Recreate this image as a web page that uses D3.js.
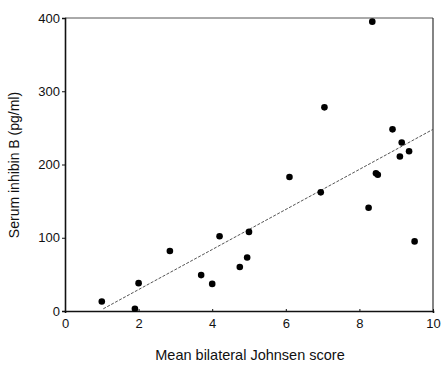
<!DOCTYPE html>
<html>
<head>
<meta charset="utf-8">
<script src="https://cdn.jsdelivr.net/npm/d3@7"></script>
<style>
  body { margin: 0; background: #fff; }
  svg text { font-family: "Liberation Sans", Arial, sans-serif; fill: #111; }
</style>
</head>
<body>
<svg id="chart" width="444" height="365"></svg>
<script>
// Johnsen score vs serum inhibin B
const johnsen = [1.0, 1.9, 2.0, 2.85, 3.7, 4.0, 4.2, 4.75, 4.95, 5.0, 6.1,
                 6.95, 7.05, 8.25, 8.35, 8.45, 8.5, 8.9, 9.1, 9.15, 9.35, 9.5];
const inhibin = [13, 3, 38, 82, 49, 37, 102, 60, 73, 108, 183,
                 162, 278, 141, 395, 188, 186, 248, 211, 230, 218, 95];
const fit_line = [[1.04, 3], [10, 248]];
const x_ticks = [0, 2, 4, 6, 8, 10];
const y_ticks = [0, 100, 200, 300, 400];

const svg = d3.select('#chart');
const x = d3.scaleLinear().domain([0, 10]).range([65, 433]);
const y = d3.scaleLinear().domain([0, 400]).range([311, 18]);

// frame: top and right are fainter in the scan
svg.append('line').attr('x1', x(0)).attr('x2', x(10)).attr('y1', y(400)).attr('y2', y(400))
    .attr('stroke', '#555').attr('stroke-width', 1);
svg.append('line').attr('x1', x(10)).attr('x2', x(10)).attr('y1', y(400)).attr('y2', y(0))
    .attr('stroke', '#333').attr('stroke-width', 1.2);

let xAxis = svg.append('g').attr('transform', 'translate(0,' + y(0) + ')')
    .call(d3.axisBottom(x).tickValues(x_ticks).tickSize(2).tickPadding(6));
let yAxis = svg.append('g').attr('transform', 'translate(' + x(0) + ',0)')
    .call(d3.axisLeft(y).tickValues(y_ticks).tickSize(3).tickPadding(2));
[xAxis, yAxis].forEach(a => {
    a.select('.domain').attr('stroke', '#111').attr('stroke-width', 1.6);
    a.selectAll('.tick line').attr('stroke', '#111');
    a.selectAll('.tick text').style('font-size', '13px').attr('fill', '#111');
});
xAxis.selectAll('.tick line').attr('y2', -2);

// regression line
svg.append('line')
    .attr('x1', x(fit_line[0][0])).attr('y1', y(fit_line[0][1]))
    .attr('x2', x(fit_line[1][0])).attr('y2', y(fit_line[1][1]))
    .attr('stroke', '#555').attr('stroke-width', 1).attr('stroke-dasharray', '3,1.5');

svg.append('g').selectAll('circle')
    .data(johnsen.map((v, i) => [v, inhibin[i]]))
    .join('circle')
    .attr('cx', d => x(d[0]))
    .attr('cy', d => y(d[1]))
    .attr('r', 3.3)
    .attr('fill', '#000');

svg.append('text')
    .attr('x', 250).attr('y', 360)
    .attr('text-anchor', 'middle')
    .style('font-size', '14.5px')
    .text('Mean bilateral Johnsen score');

svg.append('text')
    .attr('transform', 'translate(19,165) rotate(-90)')
    .attr('text-anchor', 'middle')
    .style('font-size', '14px')
    .text('Serum inhibin B (pg/ml)');
</script>
</body>
</html>
